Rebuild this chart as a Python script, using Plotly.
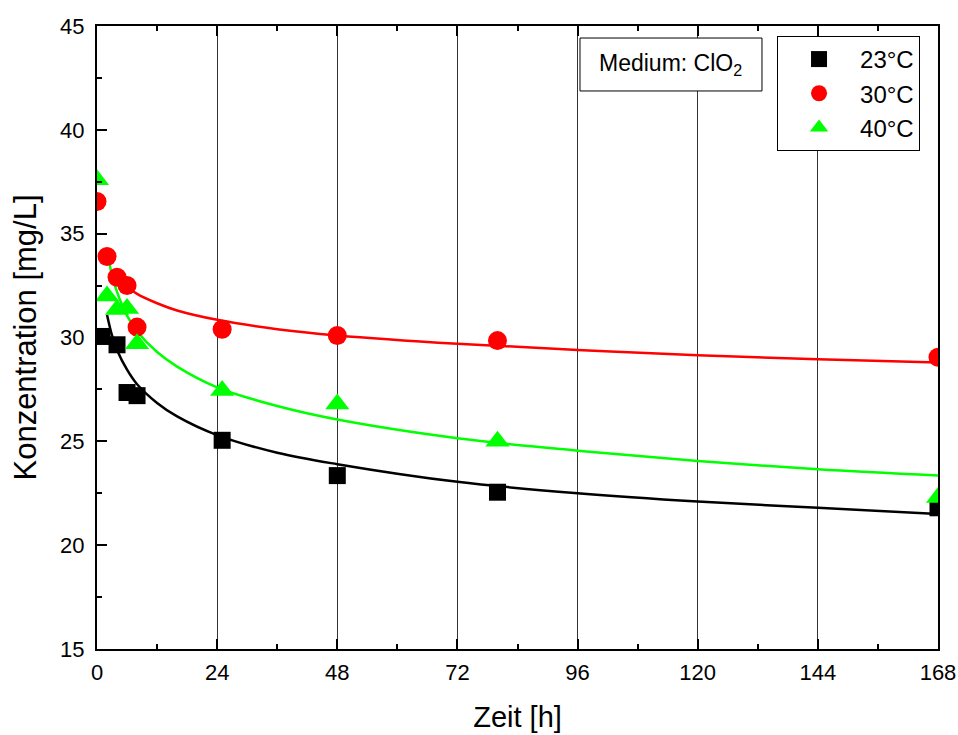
import plotly.graph_objects as go

# Measured concentrations over time for three temperatures
time_23 = [1, 4, 6, 8, 25, 48, 80, 168]
conc_23 = [30.05, 29.65, 27.35, 27.2, 25.05, 23.35, 22.55, 21.8]

time_30 = [0, 2, 4, 6, 8, 25, 48, 80, 168]
conc_30 = [36.55, 33.9, 32.9, 32.5, 30.5, 30.4, 30.1, 29.85, 29.05]

time_40 = [0, 2, 4, 6, 8, 25, 48, 80, 168]
conc_40 = [37.6, 32.0, 31.35, 31.4, 29.7, 27.45, 26.8, 25.0, 22.3]

# Fitted decay curves
fit_time_23 = [2, 3, 4, 6, 8, 12, 16, 24, 36, 48, 72, 96, 120, 144, 168]
fit_conc_23 = [31.1, 30.1, 29.4, 28.45, 27.75, 26.85, 26.2, 25.3, 24.45, 23.9, 23.05, 22.5, 22.1, 21.8, 21.5]

fit_time_30 = [4, 6, 8, 12, 16, 24, 36, 48, 72, 96, 120, 144, 168]
fit_conc_30 = [32.9, 32.45, 32.1, 31.65, 31.3, 30.85, 30.4, 30.1, 29.7, 29.4, 29.15, 28.95, 28.8]

fit_time_40 = [2, 3, 4, 6, 8, 12, 16, 24, 36, 48, 72, 96, 120, 144, 168]
fit_conc_40 = [34.2, 33.0, 32.2, 31.05, 30.3, 29.3, 28.6, 27.6, 26.7, 26.05, 25.15, 24.55, 24.05, 23.65, 23.35]

x_ticks = [0, 24, 48, 72, 96, 120, 144, 168]
y_ticks = [15, 20, 25, 30, 35, 40, 45]

series_names = ["23°C", "30°C", "40°C"]
colors = ["#000000", "#ff0000", "#00ff00"]
symbols = ["square", "circle", "triangle-up"]
sizes = [17, 19, 21]

FONT = "Arial, Liberation Sans, sans-serif"

fig = go.Figure()

fits = [(fit_time_23, fit_conc_23), (fit_time_30, fit_conc_30), (fit_time_40, fit_conc_40)]
for (ft, fc), col in zip(fits, colors):
    fig.add_trace(go.Scatter(
        x=ft, y=fc, mode="lines", line=dict(color=col, width=2.5, shape="spline", smoothing=1.0),
        showlegend=False, hoverinfo="skip",
    ))

points = [(time_23, conc_23), (time_30, conc_30), (time_40, conc_40)]
for (t, c), name, col, sym, sz in zip(points, series_names, colors, symbols, sizes):
    fig.add_trace(go.Scatter(
        x=t, y=c, mode="markers", name=name, legendgroup=name,
        marker=dict(symbol=sym, size=sz, color=col, line=dict(width=0)),
    ))

axis_common = dict(
    showline=True, linecolor="black", linewidth=2,
    ticks="inside", ticklen=10, tickwidth=2, tickcolor="black",
    tickfont=dict(family=FONT, size=22, color="black"),
    zeroline=False, automargin=False,
)

fig.update_xaxes(
    range=[0, 168], tickvals=x_ticks, mirror="ticks",
    showgrid=True, gridcolor="#333333", gridwidth=1,
    ticklabelstandoff=3,
    minor=dict(ticks="inside", ticklen=5, tickwidth=2, tickcolor="black", dtick=12, tick0=0, showgrid=False),
    title=dict(text="Zeit [h]", font=dict(family=FONT, size=29, color="black"), standoff=22),
    **axis_common,
)
fig.update_yaxes(
    range=[15, 45], tickvals=y_ticks, mirror=True, showgrid=False,
    ticklabelstandoff=6,
    minor=dict(ticks="inside", ticklen=5, tickwidth=2, tickcolor="black", dtick=2.5, tick0=15, showgrid=False),
    title=dict(text="Konzentration [mg/L]", font=dict(family=FONT, size=31, color="black"), standoff=14),
    **axis_common,
)

# Box with the medium label
fig.add_shape(type="rect", xref="paper", yref="paper",
              x0=0.5743, x1=0.7907, y0=0.8957, y1=0.9807,
              line=dict(color="black", width=1), fillcolor="white", layer="above")
fig.add_annotation(xref="paper", yref="paper", x=0.6825, y=0.938,
                   xanchor="center", yanchor="middle",
                   text="Medium: ClO<sub>2</sub>", showarrow=False,
                   font=dict(family=FONT, size=23, color="black"))

fig.update_layout(
    width=958, height=735,
    margin=dict(l=97, r=20, t=26, b=86),
    paper_bgcolor="white", plot_bgcolor="white",
    font=dict(family=FONT, color="black"),
    legend=dict(
        x=0.8086, y=0.984, xanchor="left", yanchor="top",
        bordercolor="black", borderwidth=1, bgcolor="white",
        font=dict(family=FONT, size=24, color="black"),
        traceorder="grouped", tracegroupgap=0, itemwidth=72,
    ),
)

fig.write_html("out.html")
